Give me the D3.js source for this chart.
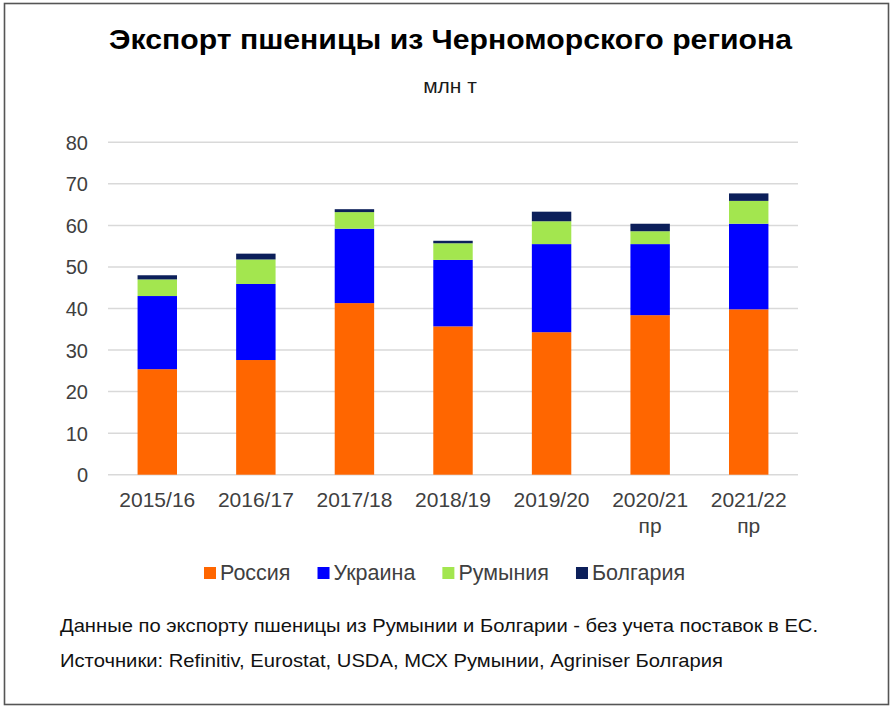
<!DOCTYPE html>
<html><head><meta charset="utf-8">
<script src="https://cdn.jsdelivr.net/npm/d3@7"></script>
<style>html,body{margin:0;padding:0;background:#fff}</style>
</head><body>
<svg id="c" width="896" height="711"></svg>
<script>
const categories = ["2015/16","2016/17","2017/18","2018/19","2019/20","2020/21\nпр","2021/22\nпр"];
const seriesNames = ["Россия","Украина","Румыния","Болгария"];
const russia   = [25.4, 27.6, 41.3, 35.7, 34.3, 38.4, 39.8];
const ukraine  = [17.6, 18.3, 17.9, 16.0, 21.2, 17.1, 20.6];
const romania  = [4.0, 5.9, 4.0, 4.0, 5.5, 3.1, 5.5];
const bulgaria = [1.0, 1.4, 0.7, 0.6, 2.3, 1.8, 1.8];
const yTicks = [0,10,20,30,40,50,60,70,80];
const colors = ["#ff6600","#0000ff","#a3e64f","#0c1f5a"];
const title = "Экспорт пшеницы из Черноморского региона";
const subtitle = "млн т";
const notes = ["Данные по экспорту пшеницы из Румынии и Болгарии - без учета поставок в ЕС.",
               "Источники: Refinitiv, Eurostat, USDA, МСХ Румынии, Agriniser Болгария"];

const svg = d3.select("#c");
const font = "'Liberation Sans', Arial, sans-serif";

svg.append("rect").attr("x",4.5).attr("y",3.5).attr("width",884).attr("height",701)
  .attr("fill","#fff").attr("stroke","#555").attr("stroke-width",1.6);

svg.append("text").attr("x",450.5).attr("y",48.5).attr("text-anchor","middle")
  .attr("font-family",font).attr("font-weight","bold").attr("font-size",27.5).attr("fill","#000")
  .attr("textLength",683).attr("lengthAdjust","spacingAndGlyphs").text(title);
svg.append("text").attr("x",450).attr("y",92.5).attr("text-anchor","middle")
  .attr("font-family",font).attr("font-size",21).attr("fill","#1a1a1a").text(subtitle);

const x = d3.scaleBand().domain(categories).range([108,798]).paddingInner(0.6).paddingOuter(0.3);
const y = d3.scaleLinear().domain([0,80]).range([474.7,142.3]);

const grid = svg.append("g");
grid.selectAll("line").data(yTicks).join("line")
  .attr("x1",108).attr("x2",798).attr("y1",d=>y(d)).attr("y2",d=>y(d))
  .attr("stroke","#d9d9d9").attr("stroke-width",1.5);

const yAxis = svg.append("g").attr("transform","translate(108,0)")
  .call(d3.axisLeft(y).tickValues(yTicks).tickSize(0).tickPadding(20));
yAxis.select(".domain").remove();
yAxis.selectAll("text").attr("font-family",font).attr("font-size",20).attr("fill","#404040").attr("dy","0.35em");

const table = categories.map((c,i)=>({cat:c, "Россия":russia[i], "Украина":ukraine[i], "Румыния":romania[i], "Болгария":bulgaria[i]}));
const stacked = d3.stack().keys(seriesNames)(table);
svg.append("g").selectAll("g").data(stacked).join("g").attr("fill",(d,i)=>colors[i])
  .selectAll("rect").data(d=>d).join("rect")
  .attr("x",d=>x(d.data.cat)).attr("width",x.bandwidth())
  .attr("y",d=>y(d[1])).attr("height",d=>y(d[0])-y(d[1]));

const xAxis = svg.append("g").attr("transform","translate(0,474.7)")
  .call(d3.axisBottom(x).tickSize(0).tickFormat(""));
xAxis.select(".domain").remove();
xAxis.selectAll(".tick").each(function(d){
  const t = d3.select(this).append("text").attr("font-family",font).attr("font-size",21)
    .attr("fill","#404040").attr("text-anchor","middle");
  d.split("\n").forEach((line,k)=>{
    t.append("tspan").attr("x",0).attr("y",32.5 + k*26).text(line);
  });
});

// legend
const lg = svg.append("g");
let lx = 204;
seriesNames.forEach((n,i)=>{
  lg.append("rect").attr("x",lx).attr("y",567).attr("width",12).attr("height",12).attr("fill",colors[i]);
  const t = lg.append("text").attr("x",lx+16).attr("y",579.5).attr("font-family",font)
    .attr("font-size",21.5).attr("fill","#404040").text(n);
  lx += 16 + t.node().getComputedTextLength() + 27;
});

svg.append("text").attr("x",60).attr("y",632).attr("font-family",font).attr("font-size",19)
  .attr("fill","#111").attr("textLength",758).attr("lengthAdjust","spacingAndGlyphs").text(notes[0]);
svg.append("text").attr("x",60).attr("y",667).attr("font-family",font).attr("font-size",19)
  .attr("fill","#111").attr("textLength",663).attr("lengthAdjust","spacingAndGlyphs").text(notes[1]);
</script>
</body></html>
